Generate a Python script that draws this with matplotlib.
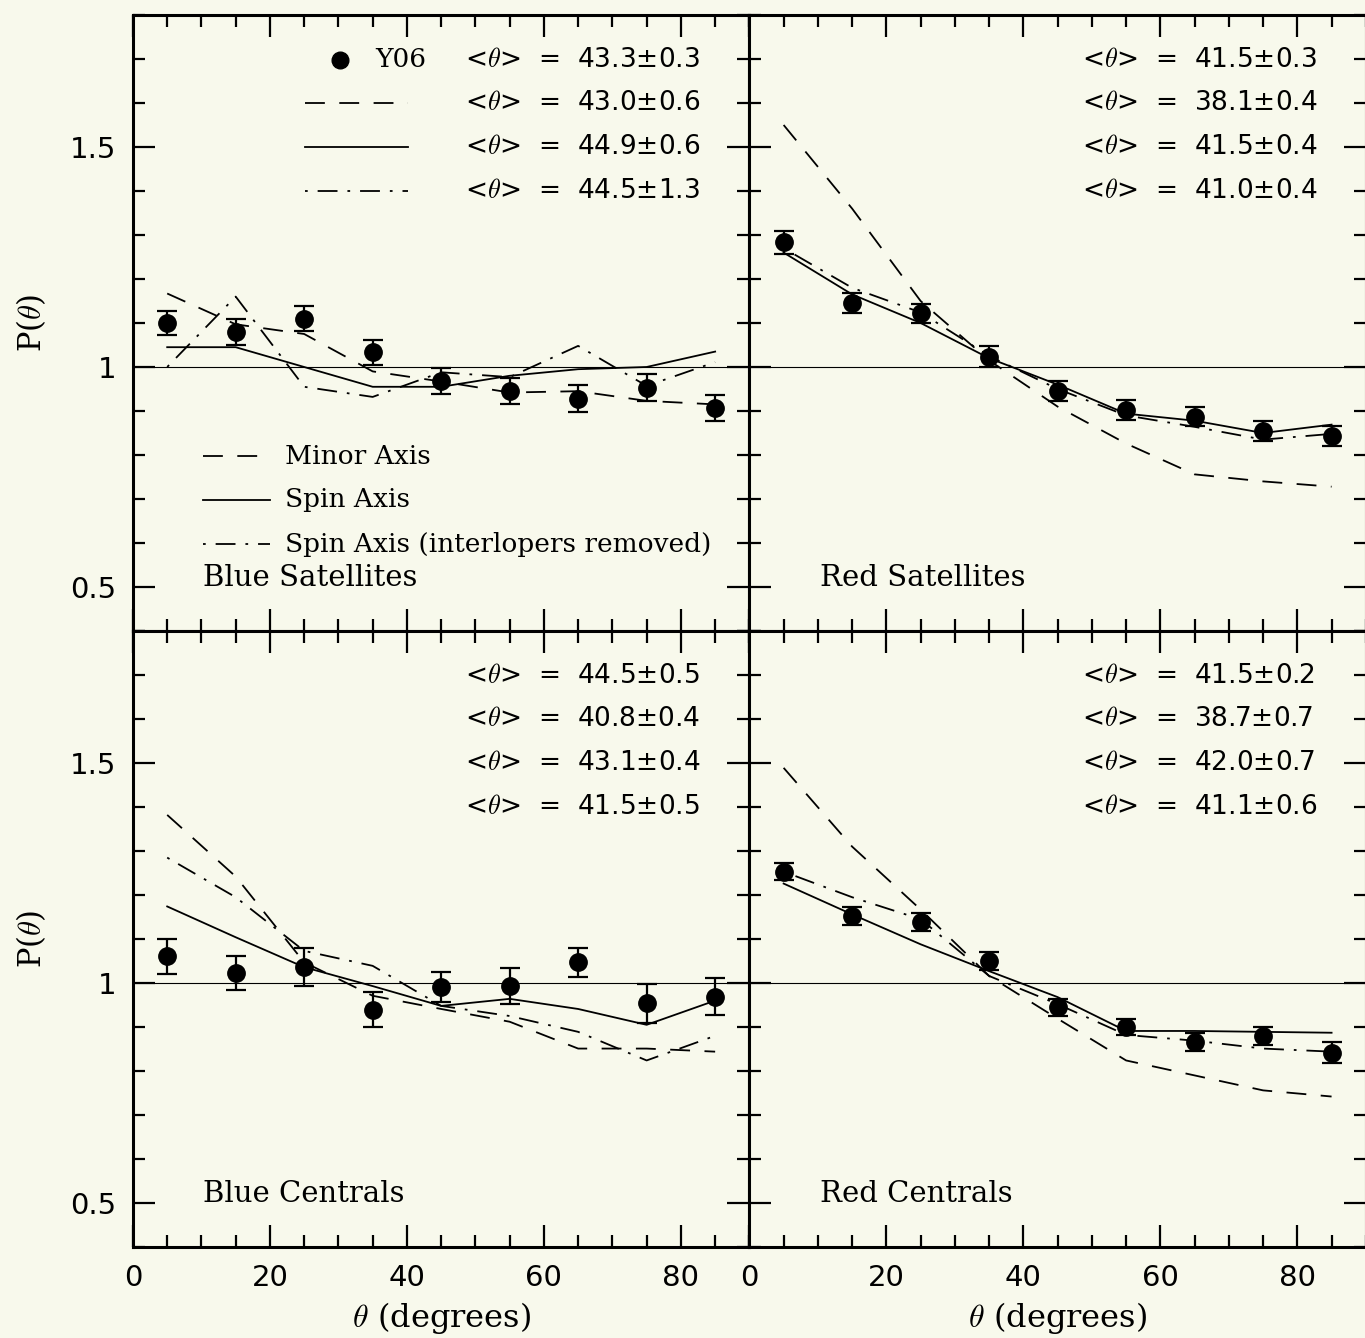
import matplotlib
matplotlib.use("Agg")
import matplotlib.pyplot as plt
from matplotlib.ticker import MultipleLocator, FuncFormatter

# P(theta) for satellites / centrals, 4 panels

theta = [5, 15, 25, 35, 45, 55, 65, 75, 85]

# blue satellites
bs_y06 = [1.100, 1.079, 1.110, 1.033, 0.968, 0.946, 0.928, 0.953, 0.907]
bs_err = [0.028, 0.030, 0.028, 0.028, 0.029, 0.030, 0.030, 0.030, 0.030]
bs_minor = [1.167, 1.097, 1.075, 0.990, 0.967, 0.942, 0.945, 0.923, 0.915]
bs_spin = [1.045, 1.045, 1.000, 0.955, 0.955, 0.980, 0.995, 1.000, 1.035]
bs_clean = [1.000, 1.160, 0.955, 0.932, 0.988, 0.977, 1.048, 0.957, 1.011]
bs_stats = ["43.3±0.3", "43.0±0.6", "44.9±0.6", "44.5±1.3"]

# red satellites
rs_y06 = [1.283, 1.145, 1.122, 1.023, 0.946, 0.903, 0.887, 0.855, 0.844]
rs_err = [0.027, 0.023, 0.021, 0.024, 0.023, 0.023, 0.022, 0.023, 0.023]
rs_minor = [1.550, 1.360, 1.150, 1.015, 0.910, 0.826, 0.756, 0.740, 0.728]
rs_spin = [1.260, 1.165, 1.100, 1.020, 0.960, 0.894, 0.878, 0.850, 0.869]
rs_clean = [1.270, 1.180, 1.124, 1.025, 0.950, 0.890, 0.864, 0.835, 0.848]
rs_stats = ["41.5±0.3", "38.1±0.4", "41.5±0.4", "41.0±0.4"]

# blue centrals
bc_y06 = [1.061, 1.023, 1.036, 0.939, 0.991, 0.993, 1.047, 0.954, 0.969]
bc_err = [0.040, 0.039, 0.043, 0.040, 0.035, 0.040, 0.033, 0.044, 0.042]
bc_minor = [1.382, 1.242, 1.047, 0.971, 0.941, 0.912, 0.851, 0.851, 0.844]
bc_spin = [1.174, 1.104, 1.036, 0.993, 0.948, 0.964, 0.941, 0.905, 0.960]
bc_clean = [1.285, 1.195, 1.073, 1.039, 0.948, 0.925, 0.889, 0.824, 0.880]
bc_stats = ["44.5±0.5", "40.8±0.4", "43.1±0.4", "41.5±0.5"]

# red centrals
rc_y06 = [1.253, 1.152, 1.138, 1.050, 0.945, 0.900, 0.866, 0.880, 0.842]
rc_err = [0.020, 0.021, 0.020, 0.020, 0.019, 0.018, 0.021, 0.021, 0.023]
rc_minor = [1.489, 1.310, 1.167, 1.016, 0.919, 0.824, 0.790, 0.756, 0.742]
rc_spin = [1.226, 1.156, 1.088, 1.027, 0.968, 0.891, 0.891, 0.889, 0.887]
rc_clean = [1.253, 1.195, 1.145, 1.016, 0.952, 0.882, 0.869, 0.851, 0.844]
rc_stats = ["41.5±0.2", "38.7±0.7", "42.0±0.7", "41.1±0.6"]

plt.rcParams['mathtext.fontset'] = 'cm'
bg = '#f8f9ec'
lw = 1.3
dash = (0, (11, 8))
dashdot = (0, (1.5, 5.5, 11, 5.5))
serif = 'DejaVu Serif'
sans = 'DejaVu Sans'

fig = plt.figure(figsize=(13.65, 13.38), dpi=100, facecolor=bg)

x0, w = 0.0974, 0.4516
b0, h = 0.068, 0.4604
panels = [
    (x0, b0 + h, bs_y06, bs_err, bs_minor, bs_spin, bs_clean, bs_stats, "Blue Satellites", True, False),
    (x0 + w, b0 + h, rs_y06, rs_err, rs_minor, rs_spin, rs_clean, rs_stats, "Red Satellites", False, False),
    (x0, b0, bc_y06, bc_err, bc_minor, bc_spin, bc_clean, bc_stats, "Blue Centrals", True, True),
    (x0 + w, b0, rc_y06, rc_err, rc_minor, rc_spin, rc_clean, rc_stats, "Red Centrals", False, True),
]

for i, (left, bottom, y06, err, minor, spin, clean, stats, name, is_left, is_bottom) in enumerate(panels):
    ax = fig.add_axes([left, bottom, w, h])
    ax.set_facecolor(bg)
    ax.set_xlim(0, 90)
    ax.set_ylim(0.4, 1.8)
    ax.axhline(1.0, color='black', lw=0.8)

    ax.plot(theta, minor, color='black', lw=lw, linestyle=dash)
    ax.plot(theta, spin, color='black', lw=lw)
    ax.plot(theta, clean, color='black', lw=lw, linestyle=dashdot)
    ax.errorbar(theta, y06, yerr=err, fmt='o', color='black', ms=12.5,
                capsize=7, capthick=1.6, elinewidth=1.6, zorder=5)

    ax.xaxis.set_major_locator(MultipleLocator(20))
    ax.xaxis.set_minor_locator(MultipleLocator(5))
    ax.yaxis.set_major_locator(MultipleLocator(0.5))
    ax.yaxis.set_minor_locator(MultipleLocator(0.1))
    ax.yaxis.set_major_formatter(FuncFormatter(lambda v, p: '%g' % v))
    ax.tick_params(which='both', direction='in', top=True, right=True,
                   width=1.6, labelsize=21)
    ax.tick_params(which='major', length=16, pad=12)
    ax.tick_params(which='minor', length=8.5)
    for s in ax.spines.values():
        s.set_linewidth(2.2)
    for lab in ax.get_xticklabels() + ax.get_yticklabels():
        lab.set_family(sans)

    if not is_left:
        ax.tick_params(labelleft=False)
    else:
        ax.set_ylabel(r'P($\theta$)', fontsize=22, family=serif, labelpad=16)
    if not is_bottom:
        ax.tick_params(labelbottom=False)
    else:
        ax.set_xlabel(r'$\theta$ (degrees)', fontsize=23, family=serif, labelpad=6)

    # stats column
    rows = [0.927, 0.857, 0.786, 0.714]
    for r, st in zip(rows, stats):
        ax.text(0.539, r, r'<$\theta$>  =  ' + st, transform=ax.transAxes,
                fontsize=19, family=sans, va='center', ha='left')

    ax.text(0.114, 0.086, name, transform=ax.transAxes, fontsize=21,
            family=serif, va='center', ha='left')

    if i == 0:
        # symbol keys for the stats column
        ax.plot([0.336], [0.927], 'o', color='black', ms=12, transform=ax.transAxes)
        ax.text(0.393, 0.927, 'Y06', transform=ax.transAxes, fontsize=19,
                family=serif, va='center')
        ax.plot([0.279, 0.446], [0.857, 0.857], color='black', lw=lw,
                linestyle=dash, transform=ax.transAxes)
        ax.plot([0.279, 0.446], [0.786, 0.786], color='black', lw=lw,
                transform=ax.transAxes)
        ax.plot([0.279, 0.446], [0.714, 0.714], color='black', lw=lw,
                linestyle=dashdot, transform=ax.transAxes)
        # line style key
        keys = [("Minor Axis", dash), ("Spin Axis", '-'),
                ("Spin Axis (interlopers removed)", dashdot)]
        for (txt, ls), r in zip(keys, [0.284, 0.213, 0.141]):
            ax.plot([0.114, 0.222], [r, r], color='black', lw=lw, linestyle=ls,
                    transform=ax.transAxes)
            ax.text(0.247, r, txt, transform=ax.transAxes, fontsize=19,
                    family=serif, va='center')

fig.savefig('out.png', dpi=100, facecolor=bg)
